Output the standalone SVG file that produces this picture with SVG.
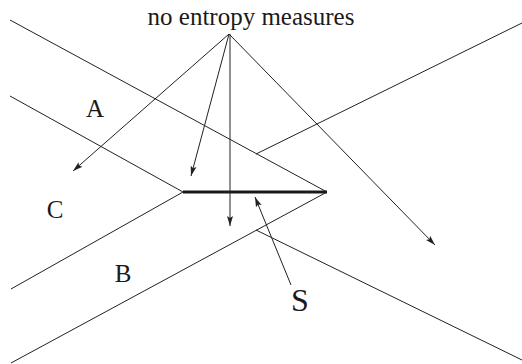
<svg xmlns="http://www.w3.org/2000/svg" width="522" height="364" viewBox="0 0 522 364">
<style>
.ln{stroke:#222;stroke-width:1;fill:none}
.thick{stroke:#1a1a1a;stroke-width:3;fill:none}
.arr{stroke:#222;stroke-width:1;fill:none;marker-end:url(#ah)}
.lbl{font-family:"Liberation Serif","Times New Roman",serif;fill:#1a1a1a;text-anchor:middle}
</style>
<defs>
<marker id="ah" markerUnits="userSpaceOnUse" markerWidth="11" markerHeight="7" refX="10" refY="3.5" orient="auto">
<path d="M0,0.5 L10,3.5 L0,6.5 L2,3.5 z" fill="#222"/>
</marker>
</defs>
<rect width="522" height="364" fill="#fff"/>
<g id="boundaries">
<path class="ln" d="M10,20 L327,192"/>
<path class="ln" d="M11,363 L327,192"/>
<path class="ln" d="M10,96 L183,192 L11,289"/>
<path class="ln" d="M256,154 L522,23"/>
<path class="ln" d="M256,230 L522,360"/>
<path class="thick" d="M183,192 L327,192"/>
</g>
<g id="connectors">
<path class="arr" d="M229,34 L73,171"/>
<path class="arr" d="M229,34 L191,176"/>
<path class="arr" d="M230,34 L230,226"/>
<path class="arr" d="M229,34 L435,245"/>
<path class="arr" d="M291,285 L255,197"/>
</g>
<g id="title"><text class="lbl" x="251" y="25" font-size="25">no entropy measures</text></g>
<g id="regionA"><text class="lbl" x="95" y="117" font-size="25">A</text></g>
<g id="regionC"><text class="lbl" x="55" y="218" font-size="25">C</text></g>
<g id="regionB"><text class="lbl" x="123" y="282" font-size="25">B</text></g>
<g id="labelS"><text class="lbl" x="300" y="311" font-size="32">S</text></g>
</svg>
